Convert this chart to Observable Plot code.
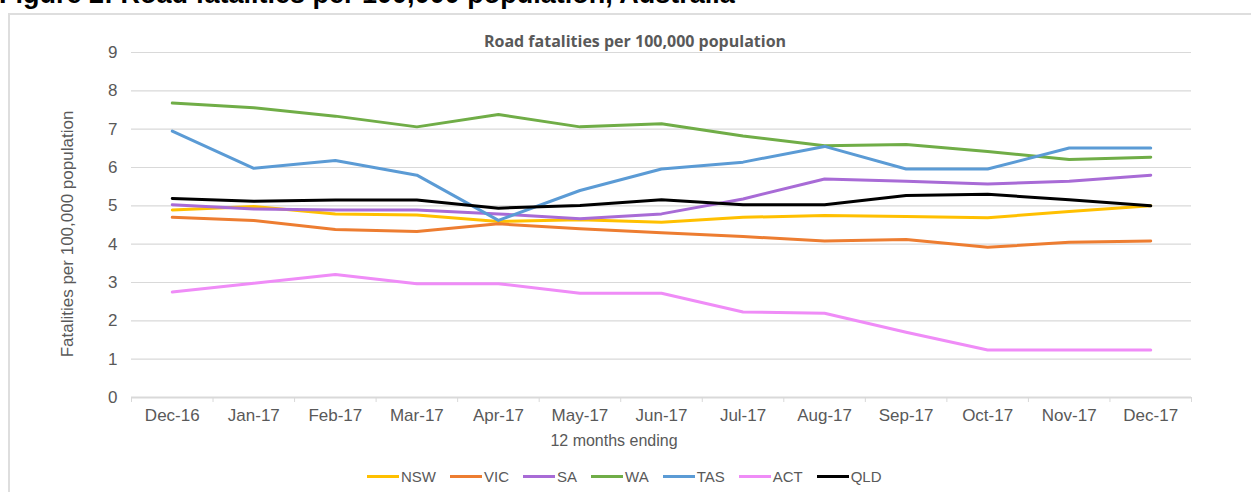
<!DOCTYPE html>
<html>
<head>
<meta charset="utf-8">
<script src="https://cdn.jsdelivr.net/npm/d3@7"></script>
<script src="https://cdn.jsdelivr.net/npm/@observablehq/plot@0.6"></script>
<style>
  html, body { margin: 0; padding: 0; background: #fff; overflow: hidden; }
  body { width: 1251px; height: 492px; position: relative; font-family: "Liberation Sans", Arial, sans-serif; }
  #frame { position: absolute; left: 8px; top: 13px; width: 1300px; height: 600px; border: 2px solid #dedede; box-sizing: border-box; }
  #fig { position: absolute; left: -1px; top: -21px; font-weight: bold; font-size: 27px; line-height: 31px; color: #000; white-space: nowrap; }
  #chart { position: absolute; left: 0; top: 0; }
  #ctitle { position: absolute; left: 0; width: 1270px; top: 30px; text-align: center; font-family: "Liberation Sans Narrow", "Open Sans", sans-serif; font-weight: bold; font-size: 16px; color: #595959; white-space: nowrap; }
  #xtitle { position: absolute; left: 514px; width: 200px; top: 432px; text-align: center; font-size: 16px; color: #595959; }
  #legend { position: absolute; left: 367px; top: 468px; display: flex; align-items: center; font-size: 15px; color: #595959; white-space: nowrap; }
  .item { display: flex; align-items: center; margin-right: 14px; }
  .sw { width: 32px; height: 3px; margin-right: 2px; }
</style>
</head>
<body>
<div id="frame"></div>
<div id="fig">Figure 2: Road fatalities per 100,000 population, Australia</div>
<div id="chart"></div>
<div id="ctitle">Road fatalities per 100,000 population</div>
<div id="xtitle">12 months ending</div>
<div id="legend"></div>
<script>
const months = ["Dec-16","Jan-17","Feb-17","Mar-17","Apr-17","May-17","Jun-17","Jul-17","Aug-17","Sep-17","Oct-17","Nov-17","Dec-17"];
const states = ["NSW","VIC","SA","WA","TAS","ACT","QLD"];
const colors = ["#FFC000","#ED7D31","#A86BD6","#70AD47","#5B9BD5","#EF8CF7","#000000"];
const NSW = [4.89,4.98,4.79,4.76,4.59,4.64,4.57,4.70,4.75,4.72,4.69,4.85,5.00];
const VIC = [4.70,4.62,4.38,4.33,4.53,4.40,4.30,4.20,4.08,4.12,3.92,4.05,4.08];
const SA  = [5.03,4.92,4.89,4.89,4.79,4.66,4.79,5.18,5.70,5.64,5.57,5.64,5.80];
const WA  = [7.68,7.56,7.34,7.06,7.38,7.06,7.14,6.82,6.57,6.60,6.42,6.21,6.27];
const TAS = [6.95,5.98,6.18,5.80,4.62,5.40,5.96,6.14,6.55,5.96,5.96,6.51,6.51];
const ACT = [2.75,2.98,3.21,2.97,2.97,2.72,2.72,2.23,2.20,1.70,1.24,1.24,1.24];
const QLD = [5.19,5.12,5.15,5.15,4.94,5.01,5.16,5.03,5.03,5.27,5.30,5.16,5.00];
const yTicks = [0,1,2,3,4,5,6,7,8,9];

const series = {NSW, VIC, SA, WA, TAS, ACT, QLD};
const data = [];
for (const s of states) series[s].forEach((v, i) => data.push({s, i, v}));
const idx = months.map((m, i) => i);
const bounds = months.map((m, i) => i - 0.5).concat([months.length - 0.5]);

const gray = "#595959";
const plot = Plot.plot({
  width: 1251,
  height: 492,
  marginLeft: 131,
  marginRight: 60,
  marginTop: 52,
  marginBottom: 95,
  style: {fontFamily: "'Liberation Sans', Arial, sans-serif", background: "transparent", overflow: "visible"},
  x: {type: "linear", domain: [-0.5, months.length - 0.5]},
  y: {domain: [0, 9]},
  color: {domain: states, range: colors},
  marks: [
    Plot.gridY(yTicks, {stroke: "#d9d9d9", strokeOpacity: 1, strokeWidth: 1.2}),
    Plot.ruleY([0], {stroke: "#d9d9d9", strokeWidth: 2}),
    Plot.axisY(yTicks, {tickSize: 0, tickPadding: 14, fontSize: 17, fill: gray, label: null}),
    Plot.axisX(bounds, {tickSize: 5, stroke: "#d9d9d9", tickFormat: () => "", label: null}),
    Plot.axisX(idx, {tickSize: 0, tickPadding: 11, fontSize: 17, fill: gray, tickFormat: i => months[i], label: null}),
    Plot.text(["Fatalities per 100,000 population"], {frameAnchor: "left", textAnchor: "middle", dx: -64, dy: 9, rotate: -90, fontSize: 17, fill: gray}),
    Plot.line(data, {x: "i", y: "v", z: "s", stroke: "s", strokeWidth: 3})
  ]
});
document.getElementById("chart").appendChild(plot);

const lg = document.getElementById("legend");
states.forEach((s, k) => {
  const it = document.createElement("div");
  it.className = "item";
  const sw = document.createElement("div");
  sw.className = "sw";
  sw.style.background = colors[k];
  const t = document.createElement("span");
  t.textContent = s;
  it.appendChild(sw);
  it.appendChild(t);
  lg.appendChild(it);
});
</script>
</body>
</html>
